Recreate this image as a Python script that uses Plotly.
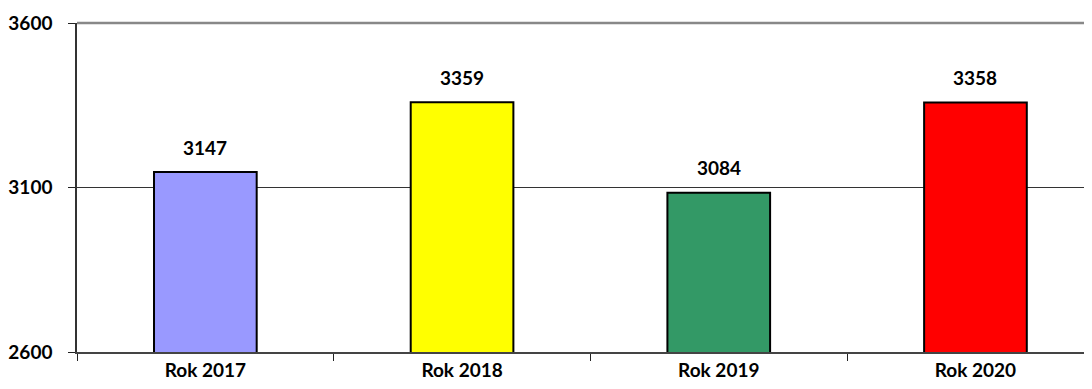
import plotly.graph_objects as go

# dane
kategorie = ["Rok 2017", "Rok 2018", "Rok 2019", "Rok 2020"]
wartosci = [3147, 3359, 3084, 3358]
kolory = ["#9999FF", "#FFFF00", "#339966", "#FF0000"]
y_ticks = [2600, 3100, 3600]

font_bold = dict(family="Lato", size=19, color="black", weight="bold")

fig = go.Figure(
    go.Bar(
        x=kategorie, y=wartosci,
        marker=dict(color=kolory, line=dict(color="black", width=2)),
        width=0.4,
        hoverinfo="x+y",
    )
)

# etykiety wartosci nad slupkami
for k, v in zip(kategorie, wartosci):
    fig.add_annotation(x=k, y=v, text=f"<b>{v}</b>", showarrow=False,
                       yshift=25, font=font_bold)

# strona ma 8px marginesu body, stad mniejszy wykres
fig.update_layout(
    width=1084, height=381,
    margin=dict(l=69, r=0, t=15, b=37),
    plot_bgcolor="white", paper_bgcolor="white",
    showlegend=False,
    bargap=0.6,
)
fig.update_xaxes(
    type="category", range=[-0.5, 3.454],
    tickson="boundaries", ticks="outside", ticklen=7, tickcolor="#222",
    showline=True, linecolor="#444", linewidth=2,
    tickfont=font_bold, showgrid=False,
)
fig.update_yaxes(
    range=[2600, 3600], tickvals=y_ticks,
    ticks="outside", ticklen=7, tickcolor="#222",
    showline=True, linecolor="#333", linewidth=1.5,
    showgrid=True, gridcolor="#333", gridwidth=1,
    tickfont=font_bold, ticklabelstandoff=12, zeroline=False,
)
# gorna linia siatki (szara, grubsza)
fig.add_shape(type="line", xref="paper", yref="y domain", x0=0, x1=1, y0=1, y1=1,
              line=dict(color="#888", width=2.5))

fig.write_html("out.html")
